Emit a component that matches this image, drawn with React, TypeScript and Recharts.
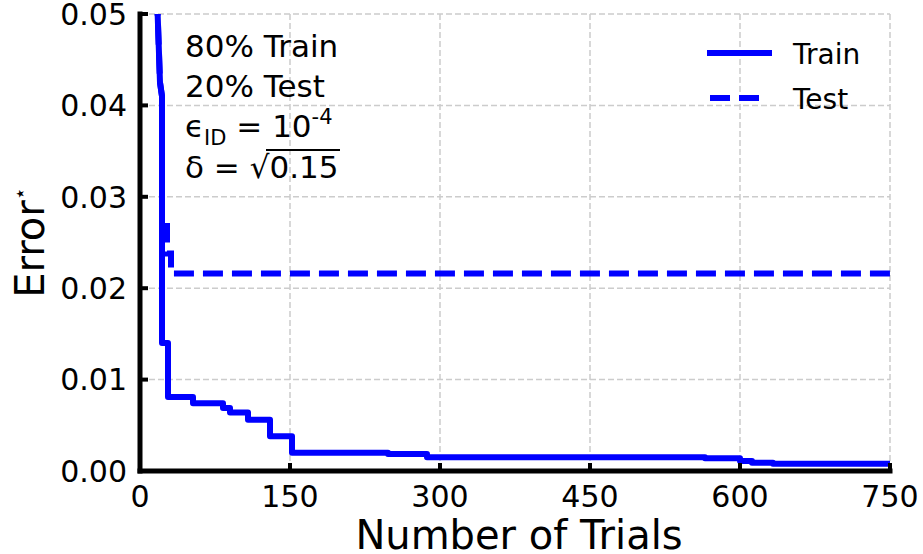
import React from "react";
import { LineChart, Line, XAxis, YAxis, CartesianGrid, Legend } from "recharts";

// trial index where the best error changes, and the error there
const trainTrials = [17, 20, 22, 22, 28, 28, 53, 53, 83, 83, 90, 90, 108, 108, 130, 130, 152, 152, 248, 248, 287, 287, 565, 565, 600, 600, 612, 612, 633, 633, 750];
const trainError = [0.052, 0.0425, 0.041, 0.014, 0.014, 0.0081, 0.0081, 0.0074, 0.0074, 0.0069, 0.0069, 0.0064, 0.0064, 0.0056, 0.0056, 0.0038, 0.0038, 0.002, 0.002, 0.00186, 0.00186, 0.0015, 0.0015, 0.0014, 0.0014, 0.0011, 0.0011, 0.0009, 0.0009, 0.0008, 0.0008];

const testTrials = [17, 20, 22, 22, 27, 27, 31, 31, 750];
const testError = [0.052, 0.0425, 0.041, 0.0268, 0.0268, 0.0238, 0.0238, 0.0216, 0.0216];

const xTicks = [0, 150, 300, 450, 600, 750];
const yTicks = [0, 0.01, 0.02, 0.03, 0.04, 0.05];
const seriesOrder = ["Train", "Test"];

const trainData = trainTrials.map((t, i) => ({ trial: t, error: trainError[i] }));
const testData = testTrials.map((t, i) => ({ trial: t, error: testError[i] }));

const FONT = '"DejaVu Sans", sans-serif';
const BLUE = "#0000ff";
const W = 923;
const H = 554;
const PLOT_LEFT = 140;
const PLOT_BOTTOM = 471;

const dashes: Record<string, string | undefined> = { Train: undefined, Test: "20 9" };

const XTick = (props: any) => {
  const { x, payload } = props;
  return (
    <g>
      <line x1={x} x2={x} y1={PLOT_BOTTOM} y2={PLOT_BOTTOM - 8} stroke="#000" strokeWidth={4} />
      <text x={x} y={507} textAnchor="middle" fontSize={30} fontFamily={FONT} fill="#000">
        {payload.value}
      </text>
    </g>
  );
};

const YTick = (props: any) => {
  const { y, payload } = props;
  return (
    <g>
      <line x1={PLOT_LEFT} x2={PLOT_LEFT + 8} y1={y} y2={y} stroke="#000" strokeWidth={4} />
      <text x={127} y={y} dy="0.36em" textAnchor="end" fontSize={30} fontFamily={FONT} fill="#000">
        {Number(payload.value).toFixed(2)}
      </text>
    </g>
  );
};

const renderLegend = (props: any) => {
  const items = [...(props.payload || [])].sort(
    (a: any, b: any) => seriesOrder.indexOf(a.value) - seriesOrder.indexOf(b.value)
  );
  return (
    <svg width={200} height={95}>
      {items.map((item: any, i: number) => {
        const cy = 23 + i * 45;
        return (
          <g key={item.value}>
            <line
              x1={i === 0 ? 7 : 10}
              x2={i === 0 ? 72 : 62}
              y1={cy}
              y2={cy}
              stroke={BLUE}
              strokeWidth={6}
              strokeDasharray={dashes[item.value]}
            />
            <text x={93} y={cy + 11} fontSize={28} fontFamily={FONT} fill="#000">
              {item.value}
            </text>
          </g>
        );
      })}
    </svg>
  );
};

const Notes = () => (
  <svg
    width={W}
    height={H}
    style={{ position: "absolute", left: 0, top: 0, pointerEvents: "none" }}
    fontFamily={FONT}
    fontSize={31}
    fill="#000"
  >
    <text x={185} y={57}>80% Train</text>
    <text x={185} y={97}>20% Test</text>
    <text x={185} y={137}>
      ϵ
      <tspan dy={8} fontSize={21}>ID</tspan>
      <tspan dy={-8}> = 10</tspan>
      <tspan dy={-13} fontSize={21}>-4</tspan>
    </text>
    <text x={185} y={178}>δ = √0.15</text>
    {/* radical bar */}
    <line x1={266} x2={340} y1={150} y2={150} stroke="#000" strokeWidth={2} />
  </svg>
);

export default function App() {
  return (
    <div style={{ position: "absolute", left: 0, top: 0, width: W, height: H, background: "#fff" }}>
      <LineChart width={W} height={H} margin={{ top: 14, right: 33, bottom: 0, left: 0 }}>
        <CartesianGrid stroke="#cccccc" strokeWidth={1.5} strokeDasharray="6 3" />
        <XAxis
          dataKey="trial"
          type="number"
          domain={[0, 750]}
          ticks={xTicks}
          allowDataOverflow
          height={83}
          tickLine={false}
          tick={<XTick />}
          axisLine={{ stroke: "#000", strokeWidth: 5, strokeLinecap: "square" }}
          label={{
            content: (p: any) => (
              <text
                x={p.viewBox.x + p.viewBox.width / 2 + 4}
                y={p.viewBox.y + 78}
                textAnchor="middle"
                fontSize={40}
                fontFamily={FONT}
                fill="#000"
              >
                Number of Trials
              </text>
            ),
          }}
        />
        <XAxis
          xAxisId="top"
          orientation="top"
          type="number"
          domain={[0, 750]}
          height={0}
          tick={false}
          tickLine={false}
          axisLine={{ stroke: "#000", strokeWidth: 5, strokeLinecap: "square" }}
        />
        <YAxis
          type="number"
          domain={[0, 0.05]}
          ticks={yTicks}
          allowDataOverflow
          width={140}
          tickLine={false}
          tick={<YTick />}
          axisLine={{ stroke: "#000", strokeWidth: 5, strokeLinecap: "square" }}
          label={{
            content: (p: any) => {
              const cy = p.viewBox.y + p.viewBox.height / 2;
              return (
                <text
                  x={44}
                  y={cy}
                  transform={`rotate(-90, 44, ${cy})`}
                  textAnchor="middle"
                  fontSize={40}
                  fontFamily={FONT}
                  fill="#000"
                >
                  Error
                  <tspan dy={-17} fontSize={21}>⋆</tspan>
                </text>
              );
            },
          }}
        />
        <YAxis
          yAxisId="right"
          orientation="right"
          type="number"
          domain={[0, 0.05]}
          width={0}
          tick={false}
          tickLine={false}
          axisLine={{ stroke: "#000", strokeWidth: 5, strokeLinecap: "square" }}
        />
        <Line
          data={trainData}
          dataKey="error"
          name="Train"
          type="linear"
          stroke={BLUE}
          strokeWidth={6}
          strokeLinejoin="round"
          dot={false}
          isAnimationActive={false}
        />
        <Line
          data={testData}
          dataKey="error"
          name="Test"
          type="linear"
          stroke={BLUE}
          strokeWidth={6}
          strokeDasharray="20 9"
          dot={false}
          isAnimationActive={false}
        />
        <Legend
          layout="vertical"
          align="center"
          verticalAlign="middle"
          content={renderLegend}
          wrapperStyle={{ left: 700, top: 30, width: 200 }}
        />
      </LineChart>
      <Notes />
    </div>
  );
}
